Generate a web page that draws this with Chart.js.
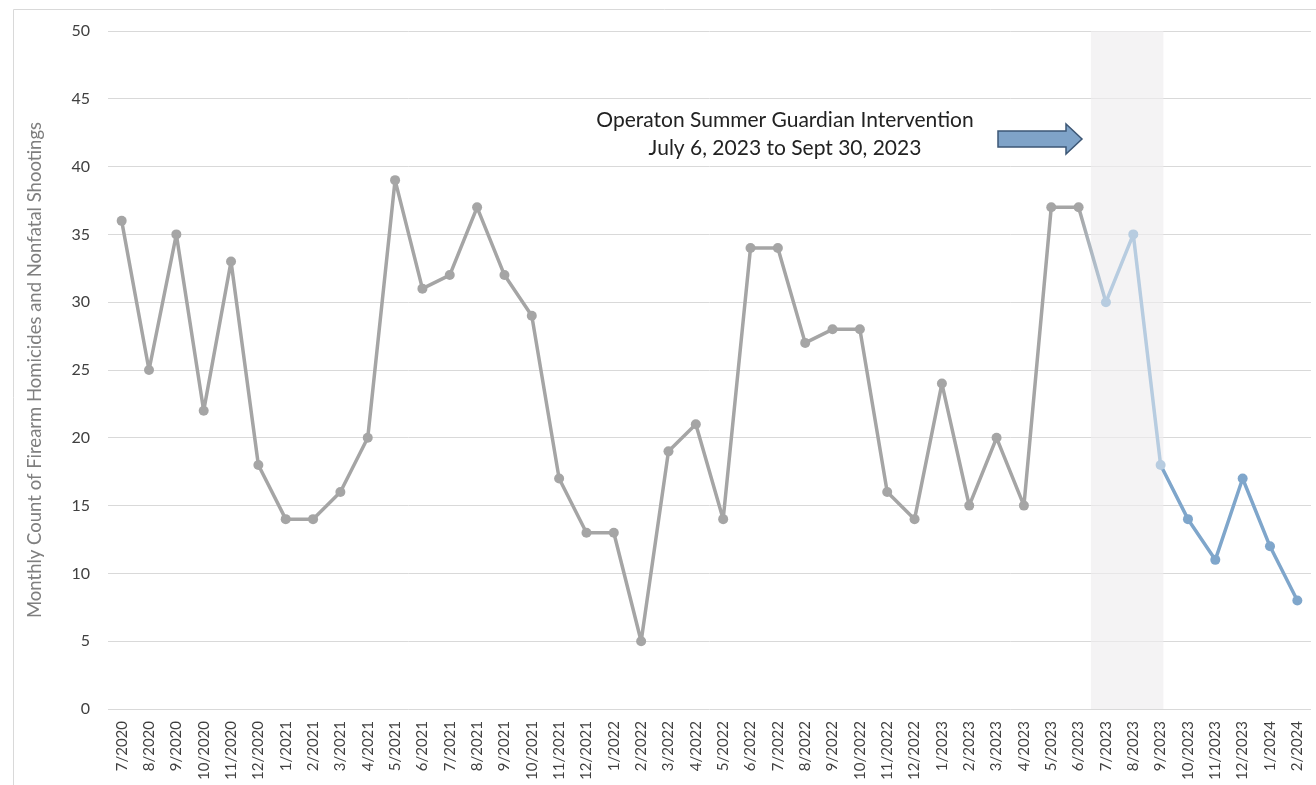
<!DOCTYPE html>
<html>
<head>
<meta charset="utf-8">
<script src="https://cdn.jsdelivr.net/npm/chart.js@4.4.1/dist/chart.umd.min.js"></script>
<style>
  body { margin: 0; background: #fff; }
  #wrap { width: 1316px; height: 785px; }
</style>
</head>
<body>
<div id="wrap"><canvas id="shootingsChart" width="1316" height="785"></canvas></div>
<script>
// Monthly counts, 7/2020 - 2/2024
const months = [
    '7/2020', '8/2020', '9/2020', '10/2020', '11/2020', '12/2020',
    '1/2021', '2/2021', '3/2021', '4/2021', '5/2021', '6/2021', '7/2021', '8/2021', '9/2021', '10/2021', '11/2021', '12/2021',
    '1/2022', '2/2022', '3/2022', '4/2022', '5/2022', '6/2022', '7/2022', '8/2022', '9/2022', '10/2022', '11/2022', '12/2022',
    '1/2023', '2/2023', '3/2023', '4/2023', '5/2023', '6/2023', '7/2023', '8/2023', '9/2023', '10/2023', '11/2023', '12/2023',
    '1/2024', '2/2024'
];
const counts = [
    36, 25, 35, 22, 33, 18,
    14, 14, 16, 20, 39, 31, 32, 37, 32, 29, 17, 13,
    13, 5, 19, 21, 14, 34, 34, 27, 28, 28, 16, 14,
    24, 15, 20, 15, 37, 37, 30, 35, 18, 14, 11, 17,
    12, 8
];
const yTicks = [0, 5, 10, 15, 20, 25, 30, 35, 40, 45, 50];

// intervention window (July 6 - Sept 30, 2023) in category units
const bandStart = 35.45;
const bandEnd = 38.1;
const duringStart = 36; // first month inside the window
const afterStart = 38;  // 9/2023 onward drawn in darker blue

const GRAY = '#a5a5a5';
const LIGHT = '#b7cce0';
const BLUE = '#7fa6cb';

function colorFor(i) {
    if (i < duringStart) return GRAY;
    if (i <= afterStart) return LIGHT;
    return BLUE;
}

const backgroundPlugin = {
    id: 'background',
    beforeDatasetsDraw(chart) {
        const { ctx, chartArea, scales } = chart;
        ctx.save();
        // frame
        ctx.strokeStyle = '#d9d9d9';
        ctx.lineWidth = 1;
        ctx.beginPath();
        ctx.moveTo(13.5, 785);
        ctx.lineTo(13.5, 9.5);
        ctx.lineTo(1316, 9.5);
        ctx.stroke();
        // shaded intervention band
        const x0 = scales.x.getPixelForValue(bandStart);
        const x1 = scales.x.getPixelForValue(bandEnd);
        ctx.fillStyle = 'rgba(238,236,238,0.65)';
        ctx.fillRect(x0, chartArea.top, x1 - x0, chartArea.bottom - chartArea.top);
        ctx.restore();
    },
    afterDatasetsDraw(chart) {
        const { ctx } = chart;
        ctx.save();
        ctx.fillStyle = '#222';
        ctx.font = '21px Lato';
        ctx.textAlign = 'center';
        ctx.textBaseline = 'middle';
        ctx.fillText('Operaton Summer Guardian Intervention', 785, 120);
        ctx.fillText('July 6, 2023 to Sept 30, 2023', 785, 148);
        // block arrow
        ctx.beginPath();
        ctx.moveTo(998, 131);
        ctx.lineTo(1066, 131);
        ctx.lineTo(1066, 124);
        ctx.lineTo(1082, 139);
        ctx.lineTo(1066, 154);
        ctx.lineTo(1066, 147);
        ctx.lineTo(998, 147);
        ctx.closePath();
        ctx.fillStyle = '#7fa3c8';
        ctx.fill();
        ctx.strokeStyle = '#3d5775';
        ctx.lineWidth = 1.5;
        ctx.stroke();
        ctx.restore();
    }
};

new Chart(document.getElementById('shootingsChart'), {
    type: 'line',
    data: {
        labels: months,
        datasets: [{
            data: counts,
            borderWidth: 3.5,
            borderJoinStyle: 'round',
            borderCapStyle: 'round',
            pointRadius: 5,
            pointHoverRadius: 5,
            pointBorderWidth: 0,
            pointBackgroundColor: ctx => colorFor(ctx.dataIndex),
            borderColor: GRAY,
            segment: {
                borderColor: seg => {
                    const i = seg.p0DataIndex;
                    if (i === duringStart - 1) {
                        const g = seg.chart.ctx.createLinearGradient(seg.p0.x, 0, seg.p1.x, 0);
                        g.addColorStop(0, GRAY);
                        g.addColorStop(1, LIGHT);
                        return g;
                    }
                    if (i >= afterStart) return BLUE;
                    return colorFor(i);
                }
            },
            tension: 0
        }]
    },
    options: {
        responsive: false,
        animation: false,
        layout: { padding: { left: 14, top: 31, right: 0, bottom: 0 } },
        plugins: {
            legend: { display: false },
            tooltip: { enabled: false }
        },
        scales: {
            x: {
                offset: true,
                grid: { display: false },
                border: { display: false },
                ticks: {
                    autoSkip: false,
                    minRotation: 90,
                    maxRotation: 90,
                    padding: 4,
                    color: '#404040',
                    font: { family: 'Lato', size: 15 }
                },
                afterFit: s => {
                    s.height = 76;
                    s.paddingLeft = 0;
                    s.paddingRight = 0;
                }
            },
            y: {
                min: 0,
                max: 50,
                afterBuildTicks: s => { s.ticks = yTicks.map(v => ({ value: v })); },
                grid: { color: '#d9d9d9', lineWidth: 1, drawTicks: false },
                border: { display: false },
                ticks: {
                    padding: 18,
                    color: '#404040',
                    font: { family: 'Lato', size: 16 }
                },
                title: {
                    display: true,
                    text: 'Monthly Count of Firearm Homicides and Nonfatal Shootings',
                    color: '#7f7f7f',
                    font: { family: 'Lato', size: 18.5 },
                    padding: { top: 10, bottom: 0 }
                },
                afterFit: s => { s.width = 94; }
            }
        }
    },
    plugins: [backgroundPlugin]
});
</script>
</body>
</html>
